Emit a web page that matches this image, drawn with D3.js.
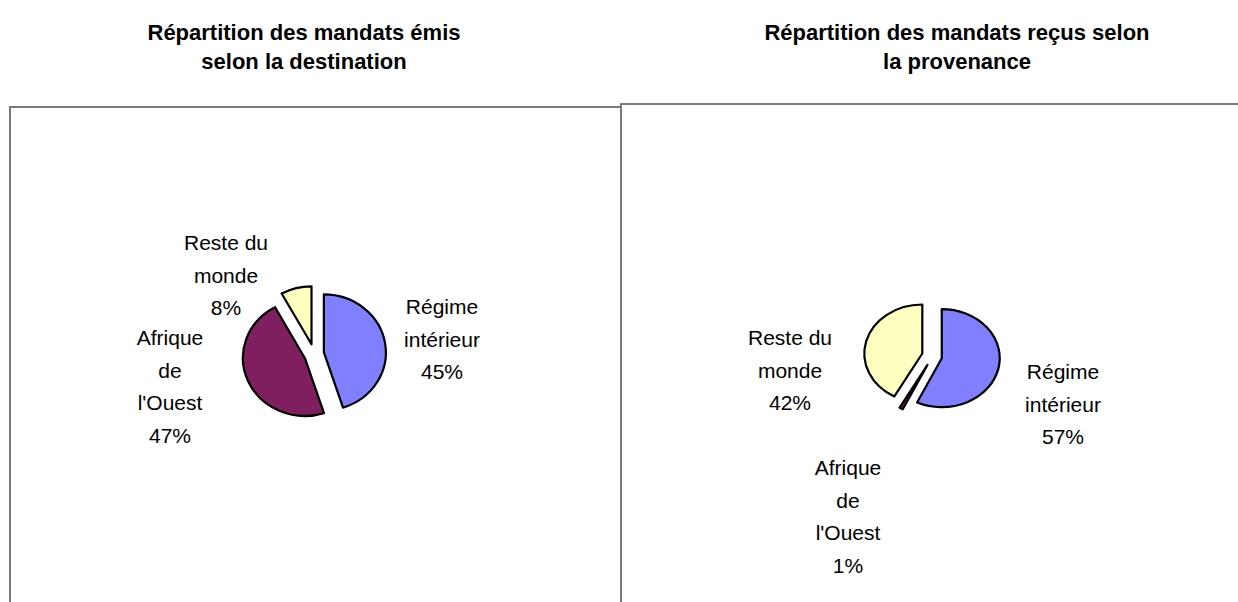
<!DOCTYPE html>
<html>
<head>
<meta charset="utf-8">
<script src="https://cdn.jsdelivr.net/npm/d3@7"></script>
<style>
  body { margin: 0; background: #fff; }
  svg { display: block; font-family: Arial, "Liberation Sans", sans-serif; }
</style>
</head>
<body>
<div id="chart"></div>
<script>

// data
var categories = ["Régime intérieur", "Afrique de l'Ouest", "Reste du monde"];
var emisValues = [45, 47, 8];
var recusValues = [57, 1, 42];
var labelLines = [["Régime", "intérieur"], ["Afrique", "de", "l'Ouest"], ["Reste du", "monde"]];
var colors = ["#8080ff", "#7f1f5f", "#ffffc0"];

var width = 1238, height = 602;

var svg = d3.select("#chart")
    .append("svg")
    .attr("width", width)
    .attr("height", height);

// layout of the two panels
var panels = [
    {
        title: ["Répartition des mandats émis", "selon la destination"],
        titleX: 304,
        values: emisValues,
        box: { x: 10, y: 107, w: 610 },
        cx: 314, cy: 354, rx: 62, ry: 58, explode: 10,
        // label anchors for each slice (first line baseline)
        labels: [[442, 314], [170, 345], [226, 250]]
    },
    {
        title: ["Répartition des mandats reçus selon", "la provenance"],
        titleX: 957,
        values: recusValues,
        box: { x: 621, y: 104, w: 640 },
        cx: 932, cy: 356, rx: 58, ry: 49, explode: 10,
        labels: [[1063, 379], [848, 475], [790, 345]]
    }
];

var pie = d3.pie().sort(null).startAngle(0).endAngle(2 * Math.PI);
var arc = d3.arc().innerRadius(0).outerRadius(1);

panels.forEach(function (p) {

    // frame (open at the bottom / right, as in the picture)
    svg.append("path")
        .attr("d", "M" + p.box.x + "," + (height + 5) + "V" + p.box.y + "H" + (p.box.x + p.box.w))
        .attr("fill", "none")
        .attr("stroke", "#7a7a7a")
        .attr("stroke-width", 2);

    // title
    svg.append("text")
        .attr("x", p.titleX)
        .attr("y", 40)
        .attr("text-anchor", "middle")
        .style("font-size", "22px")
        .style("font-weight", "bold")
        .selectAll("tspan")
        .data(p.title)
        .join("tspan")
        .attr("x", p.titleX)
        .attr("dy", function (d, i) { return i ? 29 : 0 })
        .text(function (d) { return d });

    var arcs = pie(p.values);

    var g = svg.append("g");
    g.selectAll("path")
        .data(arcs)
        .join("path")
        .attr("transform", function (d) {
            var mid = (d.startAngle + d.endAngle) / 2;
            var dx = p.explode * Math.sin(mid), dy = -p.explode * Math.cos(mid);
            return "translate(" + (p.cx + dx) + "," + (p.cy + dy) + ") scale(" + p.rx + "," + p.ry + ")";
        })
        .attr("d", arc)
        .attr("fill", function (d, i) { return colors[i] })
        .attr("stroke", "#000")
        .attr("stroke-width", 2.2)
        .attr("stroke-linejoin", "round")
        .attr("vector-effect", "non-scaling-stroke");

    // data labels
    arcs.forEach(function (d, i) {
        var lines = labelLines[i].concat([p.values[i] + "%"]);
        svg.append("text")
            .attr("x", p.labels[i][0])
            .attr("y", p.labels[i][1])
            .attr("text-anchor", "middle")
            .style("font-size", "21px")
            .selectAll("tspan")
            .data(lines)
            .join("tspan")
            .attr("x", p.labels[i][0])
            .attr("dy", function (t, j) { return j ? 32.5 : 0 })
            .text(function (t) { return t });
    });
});

</script>
</body>
</html>
